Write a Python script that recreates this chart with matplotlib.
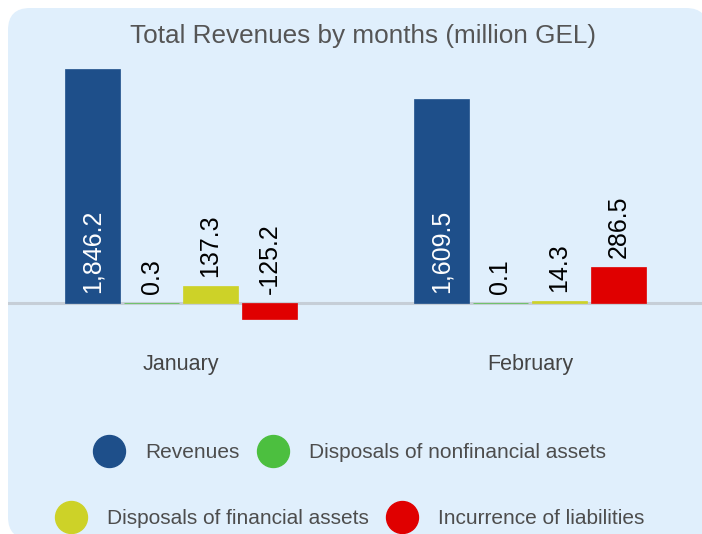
import matplotlib
matplotlib.use("Agg")
import matplotlib.pyplot as plt
from matplotlib.patches import FancyBboxPatch
from matplotlib.lines import Line2D
import numpy as np

plt.rcParams['font.family'] = ['Liberation Sans', 'DejaVu Sans']

months = ["January", "February"]
series = ["Revenues", "Disposals of nonfinancial assets",
          "Disposals of financial assets", "Incurrence of liabilities"]
revenues = [1846.2, 1609.5]
disp_nonfin = [0.3, 0.1]
disp_fin = [137.3, 14.3]
liabilities = [-125.2, 286.5]
labels_rev = ["1,846.2", "1,609.5"]
labels_nonfin = ["0.3", "0.1"]
labels_fin = ["137.3", "14.3"]
labels_liab = ["-125.2", "286.5"]
colors = ["#1e4f8a", "#4cbf3f", "#cdd228", "#e00000"]

W, H = 702, 534
fig = plt.figure(figsize=(W / 100, H / 100), dpi=100)
fig.patch.set_facecolor("white")

panel = FancyBboxPatch((0.08, -0.05), 7.0, 5.31,
                       boxstyle="round,pad=0,rounding_size=0.22",
                       transform=fig.dpi_scale_trans,
                       facecolor="#e0effc", edgecolor="none", zorder=0)
fig.add_artist(panel)

ax_top, ax_bot = 60, 330
zero_px = 303
ppu = 0.1267
ax = fig.add_axes([8 / W, (H - ax_bot) / H, 694 / W, (ax_bot - ax_top) / H])
ax.set_facecolor("none")
for s in ax.spines.values():
    s.set_visible(False)
ax.set_ylim(-(ax_bot - zero_px) / ppu, (zero_px - ax_top) / ppu)
ax.set_xlim((8 - 181) / 349, (702 - 181) / 349)
ax.set_yticks([])

x = np.arange(len(months))
step = 59 / 349
width = 55 / 349
data = [revenues, disp_nonfin, disp_fin, liabilities]
labs = [labels_rev, labels_nonfin, labels_fin, labels_liab]

ax.axhline(0, color="#c6ced7", lw=2.2, zorder=1)

for i, (vals, lab, c) in enumerate(zip(data, labs, colors)):
    xs = x + (i - 1.5) * step
    ax.bar(xs, vals, width, color=c, edgecolor=c, linewidth=0.5, zorder=2)
    for xi, v, t in zip(xs, vals, lab):
        if i == 0:
            ax.annotate(t, (xi, 0), xytext=(0, 7.5), textcoords="offset points",
                        rotation=90, ha="center", va="bottom", fontsize=18,
                        color="white", zorder=3)
        else:
            ax.annotate(t, (xi, max(v, 0)), xytext=(0, 6.5), textcoords="offset points",
                        rotation=90, ha="center", va="bottom", fontsize=18,
                        color="black", zorder=3)

ax.set_xticks(x, months)
ax.tick_params(axis="x", length=0, pad=17, labelsize=15.5, labelcolor="#444444")

fig.text(363.5 / W, 1 - 36 / H, "Total Revenues by months (million GEL)",
         ha="center", va="center", fontsize=18.8, color="#555555")

handles = [Line2D([], [], marker="o", linestyle="none", markersize=23,
                  markerfacecolor=c, markeredgecolor=c) for c in colors]
leg_kw = dict(loc="center", ncol=2, frameon=False, fontsize=15,
              handlelength=1.6, handletextpad=0.94, columnspacing=0.8,
              labelcolor="#4d4d4d", borderpad=0, borderaxespad=0)
leg1 = fig.legend(handles[:2], series[:2],
                  bbox_to_anchor=(349.5 / W, 1 - 453 / H), **leg_kw)
leg2 = fig.legend(handles[2:], series[2:],
                  bbox_to_anchor=(349.5 / W, 1 - 519 / H), **leg_kw)

fig.savefig("out.png", dpi=100, facecolor="white")
